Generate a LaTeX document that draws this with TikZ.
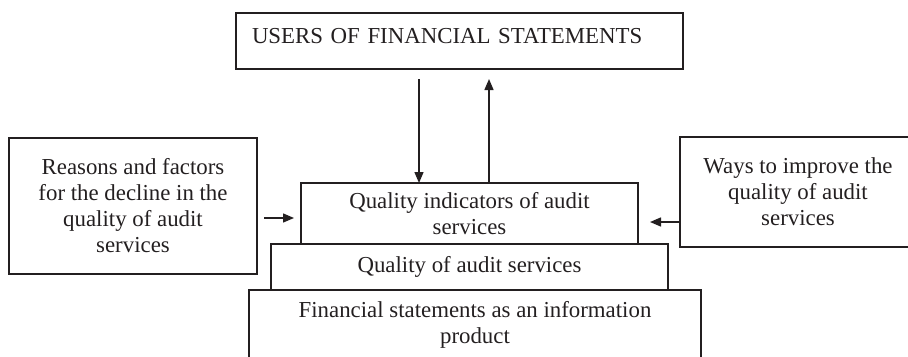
\documentclass[tikz,border=0pt]{standalone}
\usepackage{fontspec}
\setmainfont{Liberation Serif}
\usepackage{xcolor}
\usepackage{tikz}
\usetikzlibrary{calc,positioning,arrows.meta}
\definecolor{ink}{HTML}{231F20}
\tikzset{
  box/.style={draw=ink, line width=0.8pt, rectangle, outer sep=0pt, inner sep=2pt, align=center, text=ink, font=\fontsize{13}{14.8}\selectfont},
  arr/.style={draw=ink, line width=0.8pt, -{Triangle[length=0.22cm,width=0.18cm]}},
}
\begin{document}
\begin{tikzpicture}
  \path[use as bounding box, clip] (0,0) rectangle (18.16,7.12);
  \node[box, anchor=north west, minimum width=8.94cm, text width=8.30cm, align=left,
        inner xsep=0.32cm, inner ysep=0pt, text height=0.6cm, text depth=0.52cm] (users) at (4.72,6.86)
        {USERS OF FINANCIAL STATEMENTS};
  \node[box, minimum width=4.96cm, minimum height=2.72cm] (reasons) at (2.66,3.00)
        {Reasons and factors\\for the decline in the\\quality of audit\\services};
  \node[box, minimum width=4.72cm, minimum height=2.20cm] (ways) at (15.96,3.28)
        {Ways to improve the\\quality of audit\\services};
  \node[box, minimum width=6.74cm, minimum height=1.22cm] (ind) at (9.39,2.85)
        {Quality indicators of audit\\services};
  \node[box, minimum width=7.94cm, minimum height=0.92cm, below=0pt of ind] (qual)
        {Quality of audit services};
  \node[box, minimum width=9.04cm, minimum height=1.40cm, below=0pt of qual, xshift=0.11cm] (fin)
        {Financial statements as an information\\product};
  \coordinate (dn) at (8.38,0);
  \coordinate (up) at (9.78,0);
  \coordinate (la) at (0,2.76);
  \coordinate (ra) at (0,2.68);
  \draw[arr] ($(users.south -| dn)+(0,-0.2)$) -- (ind.north -| dn);
  \draw[arr] (ind.north -| up) -- ($(users.south -| up)+(0,-0.2)$);
  \draw[arr] ($(reasons.east |- la)+(0.14,0)$) -- ($(ind.west |- la)+(-0.14,0)$);
  \draw[arr] (ways.west |- ra) -- ($(ind.east |- ra)+(0.24,0)$);
\end{tikzpicture}
\end{document}
